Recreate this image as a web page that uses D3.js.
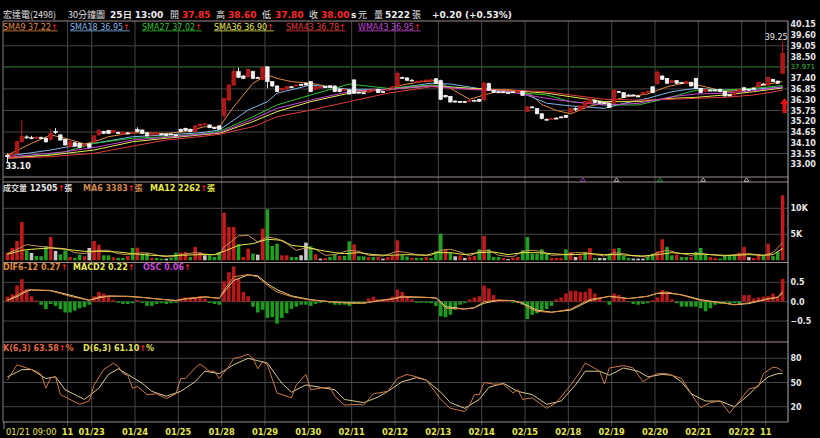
<!DOCTYPE html>
<html><head><meta charset="utf-8">
<script src="https://cdn.jsdelivr.net/npm/d3@7/dist/d3.min.js"></script>
<style>
html,body{margin:0;padding:0;background:#000;overflow:hidden}
svg{display:block}
</style></head>
<body><svg id="chart" width="820" height="438"></svg>
<script>
// ---------------- DATA ----------------
const opens = [33.45,33.40,33.56,34.15,34.40,34.36,34.33,34.36,34.33,34.28,
34.67,34.50,34.27,33.90,34.10,34.07,33.97,34.04,34.15,34.50,
34.67,34.72,34.61,34.63,34.53,34.61,34.58,34.79,34.75,34.61,
34.50,34.53,34.55,34.55,34.55,34.50,34.79,34.84,34.79,34.67,
34.96,35.03,35.01,34.87,34.96,35.50,36.28,37.05,37.73,37.51,
37.47,37.73,37.44,37.34,37.98,37.22,37.00,36.79,36.83,36.96,
37.03,37.08,37.14,37.22,36.83,36.90,36.96,37.01,37.00,36.83,
36.76,36.79,37.31,36.68,36.65,36.68,36.77,36.83,36.71,36.80,
36.88,36.96,37.44,37.41,37.30,37.17,37.22,37.25,37.28,37.37,
37.27,36.52,36.47,36.23,36.20,36.20,36.20,36.27,36.32,36.30,
37.12,36.78,36.70,36.70,36.66,36.70,36.66,36.73,35.71,35.93,
35.84,35.58,35.30,35.31,35.36,35.42,35.50,35.67,35.85,35.77,
35.91,36.12,36.28,36.20,36.15,36.12,36.12,36.71,36.66,36.54,
36.54,36.49,36.59,36.68,36.96,37.14,37.51,37.39,37.17,37.27,
37.17,37.14,37.19,37.39,36.88,36.71,36.79,36.79,36.83,36.71,
36.54,36.54,36.71,36.91,36.83,36.88,36.96,37.10,37.05,37.34,
37.25,37.65];
const closes = [33.40,33.50,34.15,34.41,34.36,34.36,34.38,34.33,34.15,34.58,
34.64,34.24,33.99,34.15,33.93,33.87,34.02,33.87,34.45,34.72,
34.58,34.58,34.72,34.60,34.64,34.55,34.63,34.67,34.58,34.45,
34.58,34.61,34.55,34.47,34.55,34.50,34.67,34.72,34.67,34.96,
35.04,35.07,34.87,34.83,34.79,36.37,37.05,37.73,37.44,37.39,
37.85,37.39,37.39,37.95,37.22,37.00,36.71,36.88,36.96,36.96,
37.05,37.06,37.05,36.71,36.96,36.95,36.96,36.93,36.71,36.71,
36.83,36.59,36.63,36.68,36.63,36.79,36.80,36.66,36.71,36.83,
36.96,37.65,37.42,37.29,37.30,37.24,37.26,37.30,37.31,37.12,
36.32,36.44,36.18,36.18,36.20,36.20,36.26,36.27,36.22,37.15,
36.78,36.67,36.70,36.70,36.66,36.70,36.72,36.52,35.93,35.93,
35.58,35.33,35.30,35.33,35.36,35.42,35.40,35.84,35.82,35.98,
36.20,36.33,36.15,36.12,36.15,35.91,36.79,36.71,36.42,36.54,
36.54,36.49,36.66,36.73,36.66,37.70,37.34,37.14,37.27,37.14,
37.17,37.22,37.00,36.88,36.66,36.83,36.79,36.79,36.71,36.49,
36.54,36.66,36.83,36.79,36.83,36.88,37.19,37.10,37.44,37.22,
37.14,38.67];
const highs = [33.55,33.60,34.20,35.26,34.48,34.45,34.45,34.42,34.38,34.79,
34.85,34.55,34.30,34.20,34.15,34.10,34.08,34.08,34.50,34.80,
34.72,34.76,34.76,34.67,34.68,34.65,34.66,34.89,34.78,34.64,
34.62,34.64,34.60,34.58,34.60,34.55,34.82,34.87,34.82,35.00,
35.08,35.10,35.04,34.90,35.00,36.40,37.10,37.90,37.93,37.55,
37.88,37.78,37.48,37.98,38.00,37.25,37.03,36.92,37.00,37.00,
37.08,37.12,37.18,37.25,37.00,36.98,37.00,37.05,37.03,36.86,
36.86,36.82,37.34,36.72,36.68,36.82,36.84,36.86,36.75,36.86,
37.00,37.73,37.48,37.45,37.34,37.28,37.30,37.34,37.35,37.40,
37.32,36.55,36.50,36.26,36.24,36.24,36.29,36.31,36.35,37.22,
37.17,36.81,36.74,36.74,36.70,36.74,36.75,36.76,35.97,35.97,
35.87,35.61,35.34,35.36,35.40,35.46,35.53,35.87,35.91,36.01,
36.23,36.36,36.31,36.23,36.19,36.15,36.82,36.75,36.69,36.58,
36.58,36.53,36.69,36.76,36.99,37.82,37.54,37.42,37.30,37.30,
37.21,37.25,37.22,37.42,36.91,36.86,36.83,36.83,36.86,36.74,
36.58,36.69,36.86,36.94,36.87,36.92,37.22,37.14,37.47,37.37,
37.28,39.25];
const lows = [33.10,33.35,33.50,34.10,34.30,34.28,34.30,34.28,34.10,34.20,
34.55,34.20,33.95,33.85,33.88,33.82,33.92,33.82,34.10,34.45,
34.55,34.55,34.58,34.56,34.50,34.52,34.55,34.64,34.55,34.42,
34.46,34.50,34.50,34.44,34.50,34.46,34.64,34.68,34.64,34.64,
34.93,35.00,34.84,34.80,34.76,35.30,36.20,37.00,37.40,37.35,
37.42,37.35,37.35,37.30,36.88,36.95,36.68,36.75,36.80,36.92,
37.00,37.03,37.02,36.68,36.80,36.87,36.92,36.90,36.68,36.68,
36.73,36.56,36.60,36.64,36.60,36.65,36.74,36.63,36.67,36.77,
36.85,36.93,37.38,37.26,37.26,37.14,37.19,37.22,37.25,37.09,
36.28,36.41,36.15,36.15,36.16,36.16,36.17,36.23,36.19,36.22,
36.75,36.64,36.66,36.66,36.62,36.66,36.63,36.49,35.68,35.89,
35.55,35.30,35.26,35.28,35.32,35.38,35.37,35.64,35.72,35.74,
35.88,36.09,36.12,36.09,36.11,35.88,36.09,36.67,36.39,36.50,
36.50,36.45,36.56,36.65,36.63,37.05,37.31,37.11,37.14,37.11,
37.13,37.11,36.97,36.85,36.63,36.68,36.75,36.75,36.68,36.46,
36.50,36.51,36.68,36.76,36.79,36.84,36.93,37.06,37.02,37.19,
37.11,37.60];
const volumes = [1470,2370,3720,7370,1860,1410,840,770,2760,4490,
1800,1150,1920,640,450,1090,770,2370,3720,3010,
960,960,580,450,450,840,2370,2430,1280,1470,
450,450,320,320,450,1470,1470,1610,640,2570,
1610,960,960,640,1610,9160,6410,6410,3080,640,
2240,1280,1090,6080,9800,2760,3200,960,960,640,
640,960,3390,2690,1150,320,450,640,1150,840,
840,3650,3080,770,770,640,640,640,320,640,
960,3840,960,720,450,450,450,640,450,1730,
5120,2110,1470,770,960,450,640,840,2110,4680,
2110,640,640,450,240,450,640,1920,4490,1280,
1280,2110,1280,450,450,450,2110,1610,640,960,
1610,2370,450,450,450,1280,2240,2370,840,450,
320,320,320,640,1280,1730,4040,2570,960,1090,
640,640,640,1610,2370,1090,640,450,320,960,
960,960,1470,2570,640,450,1090,960,3200,840,
1610,12505];
// volume direction: r = up, g = down, w = flat
const volDir = "rrrrgwgggr"+"wggrggrwrr"+"ggrggrgrgg"+"rggwggrrgr"+"rwgggrrrgr"+
  "rgwrgggrrg"+"gwwgrwrggr"+"ggrggrgrwr"+"rrggrggrgg"+"grgwrwrrgr"+"gggrwrrggg"+
  "gggrrrgrwr"+"grgwwgrggg"+"wwwggrrggr"+"ggrgggrrgg"+"ggrrwrrgrg"+"gr";
const oscVals = [0.13,0.19,0.42,0.58,0.31,0.14,0.03,-0.08,-0.19,-0.06,
-0.11,-0.19,-0.28,-0.28,-0.23,-0.17,-0.14,-0.08,0.14,0.25,
0.21,0.13,0.04,-0.03,-0.06,-0.06,-0.04,0.04,-0.03,-0.11,
-0.11,-0.06,-0.04,-0.06,-0.04,-0.03,0.08,0.11,0.08,0.11,
0.14,0.08,-0.03,-0.06,-0.08,0.53,0.76,0.91,0.59,0.25,
0.14,-0.13,-0.28,-0.21,-0.42,-0.40,-0.57,-0.42,-0.30,-0.19,
-0.13,-0.08,-0.08,-0.11,-0.06,-0.03,-0.01,-0.04,-0.08,-0.08,
-0.08,-0.11,-0.06,-0.04,-0.04,0.08,0.13,0.06,0.04,0.06,
0.13,0.31,0.25,0.12,0.06,-0.03,-0.03,-0.03,-0.04,-0.11,
-0.38,-0.40,-0.34,-0.21,-0.08,-0.04,0.06,0.11,0.14,0.42,
0.34,0.17,0.06,0.04,0.01,-0.03,-0.03,-0.08,-0.45,-0.34,
-0.30,-0.23,-0.19,-0.11,0.06,0.11,0.21,0.28,0.28,0.25,
0.25,0.34,0.21,0.11,0.01,-0.08,0.21,0.17,0.08,0.01,
-0.06,-0.08,-0.06,-0.04,0.04,0.11,0.30,0.25,0.06,-0.04,
-0.13,-0.13,-0.13,-0.13,-0.17,-0.25,-0.17,-0.08,-0.06,-0.04,
-0.06,-0.04,-0.08,0.17,0.17,0.08,0.11,0.13,0.14,0.21,
0.11,0.59];
// line series as [bar index, value]
const sma9Pts = [[0,33.47],[5,34.07],[9,34.50],[12,34.33],[16,34.04],[18,34.15],[21,34.41],[26,34.61],[33,34.58],[37,34.67],[41,34.92],[44,34.89],[47,35.94],[51,37.14],[54,37.56],[56,37.39],[59,37.22],[63,37.14],[67,36.96],[71,36.79],[75,36.76],[79,36.83],[82,37.05],[86,37.22],[89,37.27],[92,36.88],[96,36.32],[99,36.54],[103,36.79],[107,36.76],[109,36.50],[111,36.05],[114,35.75],[117,35.58],[121,35.98],[124,36.11],[128,36.42],[133,36.59],[137,36.96],[141,37.17],[145,36.96],[149,36.71],[153,36.79],[157,37.05],[161,37.22]];
const sma18Pts = [[0,33.42],[9,33.73],[12,33.87],[18,34.07],[26,34.41],[33,34.50],[40,34.61],[44,34.75],[50,35.77],[54,36.20],[56,36.63],[63,37.05],[71,36.83],[79,36.83],[88,37.14],[92,37.10],[99,36.83],[107,36.63],[112,36.12],[117,35.98],[124,35.86],[128,36.11],[133,36.37],[138,36.71],[143,36.88],[149,36.79],[155,36.83],[161,36.95]];
const sma27Pts = [[0,33.36],[8,33.47],[12,33.64],[18,34.07],[26,34.33],[33,34.41],[40,34.55],[44,34.67],[51,35.43],[56,36.03],[63,36.54],[71,37.10],[79,36.88],[88,37.05],[96,36.88],[104,36.71],[112,36.54],[117,36.20],[124,36.03],[131,36.03],[137,36.37],[143,36.79],[149,36.79],[155,36.88],[161,37.02]];
const sma36Pts = [[0,33.31],[9,33.47],[18,33.73],[26,34.15],[33,34.33],[40,34.50],[44,34.58],[51,35.18],[56,35.69],[63,36.20],[71,36.63],[79,36.83],[88,37.00],[96,36.88],[104,36.79],[112,36.63],[117,36.45],[124,36.20],[131,36.20],[138,36.37],[143,36.42],[149,36.54],[155,36.71],[161,36.90]];
const sma43Pts = [[0,33.31],[9,33.39],[18,33.56],[26,33.93],[33,34.24],[40,34.41],[44,34.53],[51,34.92],[56,35.43],[63,35.77],[71,36.20],[79,36.63],[88,36.96],[96,36.83],[104,36.79],[112,36.71],[117,36.54],[124,36.32],[131,36.28],[138,36.32],[143,36.37],[149,36.42],[155,36.54],[161,36.78]];
const wma43Pts = [[0,33.36],[12,33.64],[19,33.90],[26,34.24],[33,34.38],[40,34.53],[44,34.61],[51,35.30],[56,35.86],[63,36.28],[71,36.71],[79,36.83],[88,37.00],[96,36.83],[104,36.71],[112,36.37],[117,36.20],[124,36.03],[131,36.11],[138,36.45],[143,36.59],[149,36.63],[155,36.76],[161,36.95]];
const volMA6Pts = [[0,1280],[2,2120],[4,3010],[6,2760],[8,2560],[10,2370],[12,2240],[14,1470],[16,1280],[19,1920],[21,1920],[23,1280],[25,1090],[28,1470],[30,1280],[32,770],[34,640],[36,1090],[39,1470],[42,1090],[44,1090],[45,2560],[48,4680],[50,4810],[52,3530],[54,4490],[56,4170],[58,3210],[60,1920],[62,2370],[64,2120],[66,960],[68,1090],[71,1920],[73,1730],[75,960],[78,830],[81,1730],[83,1470],[85,1090],[88,960],[90,1920],[92,2120],[94,1600],[96,830],[98,1730],[100,1920],[102,960],[105,640],[107,1730],[109,1920],[111,1730],[113,960],[116,1090],[118,1470],[120,1470],[122,1090],[124,830],[126,1470],[128,1280],[130,830],[133,640],[135,1470],[137,1920],[139,1470],[142,960],[144,1280],[146,1090],[149,830],[151,1090],[154,1280],[157,960],[159,1470],[161,3383]];
const volMA12Pts = [[0,1150],[3,1920],[5,2120],[9,2370],[12,2120],[16,1730],[19,1730],[23,1600],[26,1280],[30,960],[33,830],[36,960],[40,1090],[43,1090],[45,1730],[48,2880],[51,3210],[54,4040],[57,3850],[59,2880],[62,2560],[65,1920],[68,1470],[70,1280],[73,1470],[76,1090],[79,960],[83,1090],[87,960],[89,1470],[92,1470],[95,1090],[98,1470],[101,1600],[104,1090],[107,1470],[110,1470],[113,1280],[116,1090],[118,1090],[121,1280],[124,1090],[127,1090],[129,960],[132,830],[135,1090],[138,1470],[140,1280],[143,1280],[146,1090],[149,960],[151,960],[154,1090],[157,960],[159,1090],[161,2262]];
const difPts = [[0,0.04],[2,0.17],[4,0.30],[5,0.31],[9,0.28],[11,0.21],[13,0.14],[16,0.06],[17,0.03],[19,0.13],[21,0.15],[25,0.13],[28,0.11],[32,0.06],[35,0.03],[37,0.08],[41,0.13],[44,0.08],[45,0.30],[47,0.64],[50,0.70],[52,0.64],[54,0.42],[56,0.25],[59,0.13],[63,0.04],[67,0.00],[71,-0.04],[74,-0.04],[77,0.03],[80,0.08],[82,0.14],[87,0.11],[89,0.09],[90,-0.04],[91,-0.17],[95,-0.19],[97,-0.15],[99,0.00],[102,0.04],[105,0.03],[107,-0.05],[108,-0.15],[110,-0.25],[113,-0.28],[117,-0.19],[121,0.06],[125,0.13],[129,0.08],[133,0.14],[135,0.22],[137,0.25],[140,0.17],[144,0.03],[149,-0.04],[151,-0.08],[154,-0.03],[158,0.08],[160,0.12],[161,0.27]];
const macdPts = [[0,0.03],[2,0.13],[4,0.27],[5,0.30],[9,0.29],[11,0.23],[13,0.17],[16,0.07],[17,0.04],[19,0.10],[21,0.14],[25,0.14],[28,0.11],[32,0.06],[35,0.03],[37,0.07],[41,0.12],[44,0.09],[45,0.25],[47,0.55],[50,0.69],[52,0.67],[54,0.46],[56,0.31],[59,0.15],[63,0.05],[67,0.00],[71,-0.03],[74,-0.04],[77,0.02],[80,0.07],[82,0.12],[87,0.11],[89,0.10],[90,0.00],[91,-0.13],[95,-0.19],[97,-0.16],[99,-0.04],[102,0.03],[105,0.03],[107,-0.04],[108,-0.10],[110,-0.22],[113,-0.27],[117,-0.22],[121,0.03],[125,0.14],[129,0.08],[133,0.14],[135,0.21],[137,0.22],[140,0.18],[144,0.05],[149,-0.04],[151,-0.08],[154,-0.05],[158,0.07],[160,0.11],[161,0.22]];
const kPts = [[0,53],[2,72],[4,68],[6,64],[7,60],[8,43],[9,56],[10,57],[11,35],[13,29],[15,23],[17,27],[18,47],[20,66],[22,74],[23,70],[24,61],[25,59],[26,43],[27,45],[29,35],[31,36],[33,30],[35,36],[36,55],[37,55],[39,68],[40,73],[42,64],[43,64],[44,55],[46,70],[47,80],[48,81],[50,85],[51,80],[52,67],[53,76],[54,72],[56,37],[59,31],[60,47],[62,60],[63,41],[65,43],[67,44],[68,33],[70,22],[73,23],[74,22],[76,36],[79,39],[81,55],[83,60],[85,57],[87,53],[90,29],[92,18],[95,14],[96,22],[97,35],[98,35],[99,50],[101,48],[103,48],[105,37],[106,41],[107,29],[109,31],[112,18],[114,25],[117,47],[119,64],[120,74],[121,71],[123,64],[124,48],[125,68],[128,71],[130,68],[132,51],[133,55],[135,61],[137,61],[140,55],[143,27],[144,19],[146,25],[148,27],[150,12],[152,27],[154,42],[156,45],[157,61],[159,69],[160,68],[161,63.58]];
const dPts = [[0,57],[3,66],[5,66],[8,55],[10,57],[12,41],[16,29],[19,43],[21,60],[23,67],[25,60],[28,49],[30,39],[33,33],[36,39],[39,51],[41,64],[44,61],[47,72],[50,80],[52,77],[54,74],[57,49],[59,38],[62,47],[65,44],[68,41],[70,29],[74,25],[77,32],[79,39],[82,51],[85,56],[87,53],[90,38],[92,25],[95,18],[98,29],[100,44],[103,49],[106,39],[109,35],[112,23],[115,27],[118,47],[120,64],[123,64],[125,59],[128,68],[131,64],[133,57],[136,60],[138,59],[140,51],[142,36],[145,27],[148,27],[151,20],[154,35],[156,47],[158,57],[160,61],[161,61.1]];
// axis / label data
const xLabelIdx = [0,13,18,27,36,45,54,63,72,81,90,99,108,117,126,135,144,153,158];
const xLabelTxt = ["01/21 09:00","11","01/23","01/24","01/25","01/28","01/29","01/30","02/11","02/12","02/13","02/14","02/15","02/18","02/19","02/20","02/21","02/22","11"];
const priceTicks = [40.15,39.60,39.05,38.50,37.40,36.85,36.30,35.75,35.20,34.65,34.10,33.55,33.00];
const priceGrid = [39.05,36.85,35.75,34.65,33.55];
const refPrice = 37.971;
const volTicks = [5000,10000];
const macdTicks = [-0.5,0,0.5];
const kdTicks = [20,50,80];
const markerIdx = [120,127,136,145,154];
const markerCol = ["#b050c0","#d0d0d0","#30b030","#d0d0d0","#d0d0d0"];
const maNames = ["SMA9","SMA18","SMA27","SMA36","SMA43","WMA43"];
const maLast = ["37.22","36.95","37.02","36.90","36.78","36.95"];
const hdrName = "宏達電(2498)", hdrPeriod = "30分鐘圖", hdrTime = "25日 13:00";
const hdrOhlcLbl = ["開","高","低","收"], hdrOhlcVal = ["37.85","38.60","37.80","38.00"];
const hdrUnit = ["s","元"], hdrVolLbl = "量", hdrVol = "5222", hdrVolUnit = "張", hdrChg = "+0.20 (+0.53%)";
const volLegend = [["成交量","12505"],["MA6","3383"],["MA12","2262"]];
const macdLegend = [["DIF6-12","0.27"],["MACD2","0.22"],["OSC","0.06"]];
const kdLegend = [["K(6,3)","63.58"],["D(6,3)","61.10"]];

// ---------------- DRAW ----------------
const svg = d3.select("#chart");
svg.append("rect").attr("width",820).attr("height",438).attr("fill","#000");
const F = '"DejaVu Sans", Verdana, sans-serif';
const CJK = '"Noto Sans CJK TC","Noto Sans CJK SC",sans-serif';
const N = opens.length;
const x = d3.scaleBand().domain(d3.range(N)).range([5, 785]);
const bw = x.bandwidth();
const cx = i => x(i) + bw / 2;
const L = 3, R = 788;
const yP = d3.scaleLinear().domain([33.00, 40.15]).range([164.3, 24.3]);
const yV = d3.scaleLinear().domain([0, 10000]).range([260.3, 208.3]);
const yM = d3.scaleLinear().domain([-0.5, 0.5]).range([321, 282.3]);
const yK = d3.scaleLinear().domain([20, 80]).range([406.7, 358.3]);
const GRID = "#464646";
const UP = "#c01a1a", UPF = "#a81616";

// clip paths
const defs = svg.append("defs");
[["cP",21,177],["cV",182,262],["cM",263,341],["cK",342,422]].forEach(([id,t,b])=>{
  defs.append("clipPath").attr("id",id).append("rect").attr("x",L).attr("y",t).attr("width",R-L).attr("height",b-t);
});

// horizontal grids
const g = svg.append("g");
priceGrid.forEach(v=>g.append("line").attr("x1",L).attr("x2",R).attr("y1",yP(v)).attr("y2",yP(v)).attr("stroke",GRID));
volTicks.forEach(v=>g.append("line").attr("x1",L).attr("x2",R).attr("y1",yV(v)).attr("y2",yV(v)).attr("stroke",GRID));
macdTicks.forEach(v=>g.append("line").attr("x1",L).attr("x2",R).attr("y1",yM(v)).attr("y2",yM(v)).attr("stroke",GRID));
kdTicks.forEach(v=>g.append("line").attr("x1",L).attr("x2",R).attr("y1",yK(v)).attr("y2",yK(v)).attr("stroke",GRID));
g.append("line").attr("x1",L).attr("x2",R).attr("y1",yP(refPrice)).attr("y2",yP(refPrice)).attr("stroke","#3a7a3a");
// vertical grids
xLabelIdx.slice(1).forEach(i=>{
  g.append("line").attr("x1",x(i)).attr("x2",x(i)).attr("y1",21).attr("y2",426).attr("stroke",GRID);
});

// panel borders
const B = "#a08a8a";
[[21],[177],[182],[262.5],[342]].forEach(([yy])=>g.append("line").attr("x1",L).attr("x2",R).attr("y1",yy).attr("y2",yy).attr("stroke",B));
g.append("line").attr("x1",L).attr("x2",R).attr("y1",422).attr("y2",422).attr("stroke","#909090");
g.append("line").attr("x1",L).attr("x2",L).attr("y1",21).attr("y2",422).attr("stroke","#808080");
g.append("line").attr("x1",R).attr("x2",R).attr("y1",21).attr("y2",422).attr("stroke","#b0b0b0");

// price MAs
const lineOf = sc => d3.line().x(d=>cx(d[0])).y(d=>sc(d[1]));
const maSeries = [sma9Pts,sma18Pts,sma27Pts,sma36Pts,sma43Pts,wma43Pts];
const maCols = ["#e08a3c","#7fb4e6","#2fc42f","#e8e850","#e03a3a","#c844d4"];
const pg = svg.append("g").attr("clip-path","url(#cP)");
maSeries.forEach((s,k)=>pg.append("path").attr("d",lineOf(yP)(s)).attr("fill","none").attr("stroke",maCols[k]).attr("stroke-width",1));

// candles
const cw = bw*0.74;
d3.range(N).forEach(i=>{
  const o=opens[i], c=closes[i], up=c>o;
  const col = up ? UP : "#f2f2f2";
  pg.append("line").attr("x1",cx(i)).attr("x2",cx(i)).attr("y1",yP(highs[i])).attr("y2",yP(lows[i])).attr("stroke",col).attr("stroke-width",1);
  const top = yP(Math.max(o,c)), h = Math.max(1, yP(Math.min(o,c))-top);
  pg.append("rect").attr("x",cx(i)-cw/2).attr("y",top).attr("width",cw).attr("height",h)
    .attr("fill", up?UPF:"#f0f0f0").attr("stroke", up?"#d42020":"#ffffff").attr("stroke-width",0.6);
});

// max / min labels
const iMax = d3.maxIndex(highs), iMin = d3.minIndex(lows);
svg.append("text").attr("x",cx(iMax)+5).attr("y",yP(highs[iMax])-1.5).attr("text-anchor","end")
  .attr("font-family",F).attr("font-size",8).attr("fill","#e8e8e8").text(highs[iMax].toFixed(2));
svg.append("text").attr("x",cx(iMin)-2).attr("y",yP(lows[iMin])+6.5).attr("font-family",F).attr("font-weight","bold")
  .attr("font-size",8).attr("fill","#f0f0f0").text(lows[iMin].toFixed(2));

// red up arrow (signal marker)
svg.append("path").attr("d","M784.5,98 L789,104 L786.5,104 L786.5,113 L782.5,113 L782.5,104 L780,104 Z").attr("fill","#e01010");

// markers between panels
markerIdx.forEach((i,k)=>{
  svg.append("path").attr("d",`M${x(i)},177.8 L${x(i)+2.4},181.4 L${x(i)-2.4},181.4 Z`).attr("fill","none").attr("stroke",markerCol[k]).attr("stroke-width",0.8);
});

// volume
const vg = svg.append("g").attr("clip-path","url(#cV)");
const vc = {r:"#c41a1a", g:"#1fa01f", w:"#c8c8c8"};
volumes.forEach((v,i)=>{
  vg.append("rect").attr("x",cx(i)-cw/2).attr("y",yV(v)).attr("width",cw).attr("height",yV(0)-yV(v)).attr("fill",vc[volDir[i]]);
});
vg.append("path").attr("d",lineOf(yV)(volMA6Pts)).attr("fill","none").attr("stroke","#c8905a").attr("stroke-width",1);
vg.append("path").attr("d",lineOf(yV)(volMA12Pts)).attr("fill","none").attr("stroke","#e6e64a").attr("stroke-width",1);

// MACD
const mg = svg.append("g").attr("clip-path","url(#cM)");
oscVals.forEach((v,i)=>{
  mg.append("rect").attr("x",cx(i)-cw/2).attr("y",Math.min(yM(v),yM(0))).attr("width",cw)
    .attr("height",Math.abs(yM(v)-yM(0))).attr("fill", v>=0?"#b81818":"#1c9c1c");
});
mg.append("path").attr("d",lineOf(yM)(macdPts)).attr("fill","none").attr("stroke","#ecd890").attr("stroke-width",1);
mg.append("path").attr("d",lineOf(yM)(difPts)).attr("fill","none").attr("stroke","#e0883a").attr("stroke-width",1);

// KD
const kg = svg.append("g").attr("clip-path","url(#cK)");
kg.append("path").attr("d",lineOf(yK)(dPts)).attr("fill","none").attr("stroke","#d8c890").attr("stroke-width",1);
kg.append("path").attr("d",lineOf(yK)(kPts)).attr("fill","none").attr("stroke","#cc7848").attr("stroke-width",1);

// right axes
function rAxis(sc, ticks, fmt){
  const a = svg.append("g").attr("transform",`translate(${R},0)`)
    .call(d3.axisRight(sc).tickValues(ticks).tickFormat(fmt).tickSize(0).tickPadding(2.5));
  a.select(".domain").remove();
  a.selectAll("text").attr("font-family",F).attr("font-size",8).attr("font-weight","bold").attr("fill","#e6e6e6");
}
rAxis(yP, priceTicks, d3.format(".2f"));
rAxis(yV, volTicks, d=>(d/1000)+"K");
rAxis(yM, macdTicks, d3.format(".1f"));
rAxis(yK, kdTicks, d3.format("d"));
svg.append("text").attr("x",R+2.5).attr("y",yP(refPrice)).attr("dy","0.32em").attr("font-family",F)
  .attr("font-size",7).attr("fill","#3cc03c").text(refPrice.toFixed(3));

// x labels
xLabelIdx.forEach((i,k)=>{
  const first = k===0;
  svg.append("text").attr("x", first ? x(i)+1 : x(i)).attr("y",435)
    .attr("text-anchor", first?"start":"middle").attr("font-family",F).attr("font-size",8.3)
    .attr("font-weight", first?"normal":"bold").attr("fill","#e6e64e").text(xLabelTxt[k]);
});
svg.append("line").attr("x1",4).attr("x2",4).attr("y1",422).attr("y2",429).attr("stroke","#909090");

// header
const h = svg.append("text").attr("y",17.5).attr("font-family",F).attr("font-size",8.5);
const seg = (t,xx,col,bold,cjk,fs)=>h.append("tspan").attr("x",xx).attr("fill",col)
  .attr("font-weight",bold?"bold":"normal").attr("font-family",cjk?CJK:F).attr("font-size",fs||8.5).text(t);
seg(hdrName,3,"#e0e0e0",false,true,9);
seg(hdrPeriod,68,"#e0e0e0",false,true,9);
seg(hdrTime,110,"#f0f0f0",true,false,9);
const ox=[170,216,262,309], vx=[182,228,275,321];
hdrOhlcLbl.forEach((t,k)=>{ seg(t,ox[k],"#e0e0e0",false,true,9); seg(hdrOhlcVal[k],vx[k],"#ff2a2a",true,false,9); });
seg(hdrUnit[0],351,"#f0f0f0",true,false,9);
seg(hdrUnit[1],358,"#e0e0e0",false,true,9);
seg(hdrVolLbl,374,"#e0e0e0",false,true,9);
seg(hdrVol,385,"#f0f0f0",true,false,9);
seg(hdrVolUnit,412,"#e0e0e0",false,true,9);
seg(hdrChg,432,"#f0f0f0",true,false,9);

// legend helpers
function legend(yy, items){
  items.forEach(it=>{
    const t = svg.append("text").attr("x",it.x).attr("y",yy).attr("font-family",F).attr("font-size",it.fs||8)
      .attr("font-weight",it.bold?"bold":"normal").attr("fill",it.c);
    if(it.ul) t.attr("text-decoration","underline");
    it.parts.forEach(p=>t.append("tspan").attr("fill",p[1]||it.c).attr("font-family",p[2]?CJK:F).text(p[0]));
  });
}
const maX = [3,70,142,214,286,358];
legend(29.5, maNames.map((n,k)=>({x:maX[k], c:maCols[k], ul:true, parts:[[n+" "+maLast[k]],["↑","#ff2020"]]})));
legend(190.5, [
  {x:3, c:"#e8e8e8", bold:true, parts:[[volLegend[0][0],"#d8d8d8",true],[" "+volLegend[0][1]],["↑","#ff2020"],["張","#d8d8d8",true]]},
  {x:83, c:"#d08a50", bold:true, parts:[[volLegend[1][0]+" "+volLegend[1][1]],["↑","#ff2020"],["張",null,true]]},
  {x:150, c:"#e8e84a", bold:true, parts:[[volLegend[2][0]+" "+volLegend[2][1]],["↑","#ff2020"],["張",null,true]]}
]);
legend(270, [
  {x:3, c:"#e08a3a", bold:true, parts:[[macdLegend[0][0]+" "+macdLegend[0][1]],["↑","#ff2020"]]},
  {x:73, c:"#e8e860", bold:true, parts:[[macdLegend[1][0]+" "+macdLegend[1][1]],["↑","#ff2020"]]},
  {x:143, c:"#c848d8", bold:true, parts:[[macdLegend[2][0]+" "+macdLegend[2][1]],["↑","#ff2020"]]}
]);
legend(350.5, [
  {x:3, c:"#e06a44", bold:true, parts:[[kdLegend[0][0]+" "+kdLegend[0][1]],["↑","#ff2020"],["%"]]},
  {x:83, c:"#e4e05a", bold:true, parts:[[kdLegend[1][0]+" "+kdLegend[1][1]],["↑","#ff2020"],["%"]]}
]);
</script>
</body></html>
